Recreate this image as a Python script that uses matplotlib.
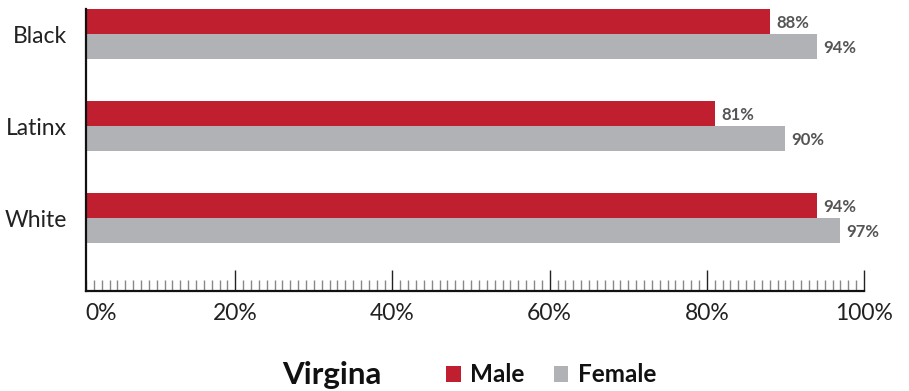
import numpy as np
import matplotlib
matplotlib.use("Agg")
import matplotlib.pyplot as plt
from matplotlib.patches import Patch
from matplotlib.ticker import MultipleLocator

plt.rcParams['font.family'] = ['Lato', 'DejaVu Sans']

groups = ['Black', 'Latinx', 'White']
male = [88, 81, 94]
female = [94, 90, 97]
tick_vals = [0, 20, 40, 60, 80, 100]
state = 'Virgina'

red = '#C01F2F'
gray = '#B1B2B6'

fig = plt.figure(figsize=(9.09, 3.91), dpi=100)
ax = fig.add_axes([86 / 909, 1 - 291 / 391, (864 - 86) / 909, (291 - 9) / 391])

y = np.arange(len(groups))
h = 0.272
ax.barh(y - h / 2, male, height=h, color=red, zorder=2)
ax.barh(y + h / 2, female, height=h, color=gray, zorder=2)

for yi, m, f in zip(y, male, female):
    ax.text(m + 0.8, yi - h / 2 + 0.02, f'{m}%', va='center', ha='left',
            fontsize=12, fontweight='bold', color='#555555')
    ax.text(f + 0.8, yi + h / 2 + 0.02, f'{f}%', va='center', ha='left',
            fontsize=12, fontweight='bold', color='#555555')

ax.set_xlim(1, 100)
ax.set_ylim(2.793, -0.272)
ax.set_yticks(y)
ax.set_yticklabels(groups, fontsize=16.5, color='#222222')
ax.tick_params(axis='y', length=0, pad=14)

# the 0% label sits just right of the spine, without its own tick mark
tick_pos = [2.9] + tick_vals[1:]
ax.set_xticks(tick_pos)
ax.set_xticklabels([f'{v}%' for v in tick_vals], fontsize=16.5, color='#222222')
ax.xaxis.get_major_ticks()[0].tick1line.set_visible(False)
ax.xaxis.set_minor_locator(MultipleLocator(1))
ax.tick_params(axis='x', which='major', direction='in', length=15, width=1,
               color='#222222', pad=9)
ax.tick_params(axis='x', which='minor', direction='in', length=8, width=1,
               color='#888888')

for side in ['top', 'right']:
    ax.spines[side].set_visible(False)
for side in ['left', 'bottom']:
    ax.spines[side].set_linewidth(1.6)
    ax.spines[side].set_color('#111111')

fig.text(332 / 909, 1 - 375 / 391, state, ha='center', va='center',
         fontsize=22.5, fontweight='bold', color='#111111')

handles = [Patch(facecolor=red, label='Male'), Patch(facecolor=gray, label='Female')]
leg = fig.legend(handles=handles, loc='center left', ncol=2, frameon=False,
                 bbox_to_anchor=(446 / 909, 1 - 375 / 391),
                 prop={'size': 17.5, 'weight': 'bold'},
                 handlelength=0.6, handleheight=0.6, handletextpad=0.4,
                 columnspacing=1.2, borderpad=0, borderaxespad=0)
for t in leg.get_texts():
    t.set_color('#111111')

fig.savefig('out.png', dpi=100)
